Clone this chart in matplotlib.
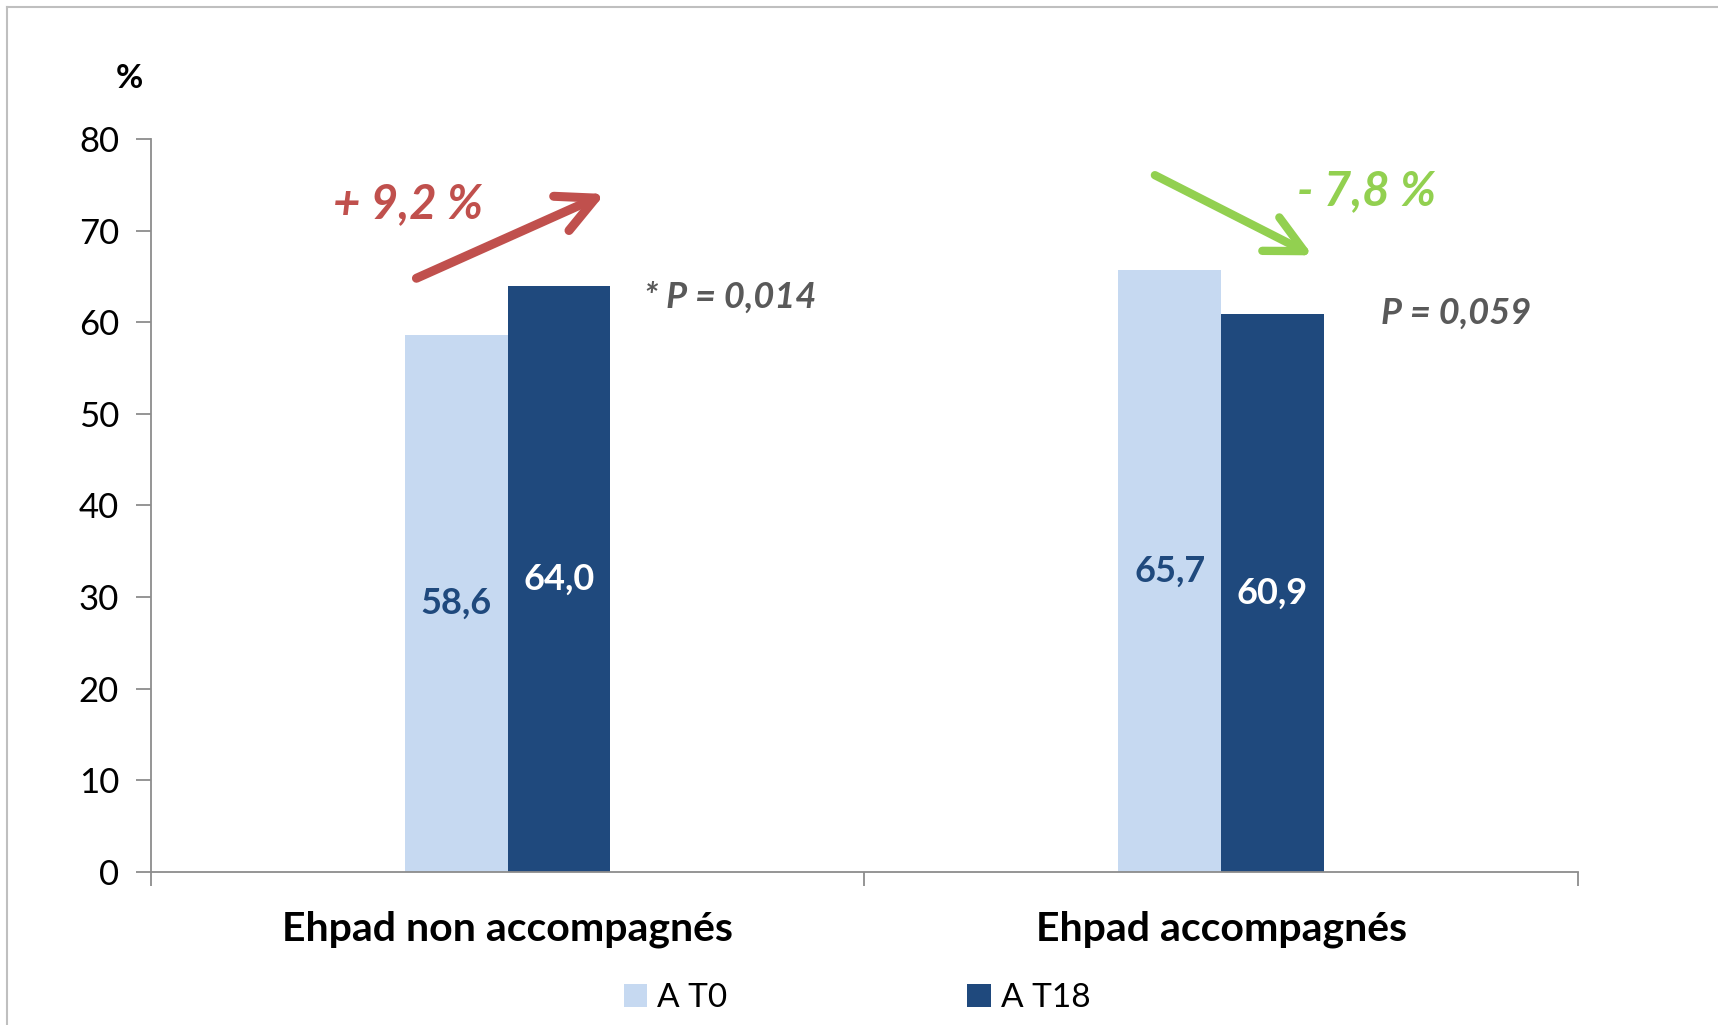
import matplotlib
matplotlib.use("Agg")
import matplotlib.pyplot as plt
import numpy as np
from matplotlib.lines import Line2D

plt.rcParams['font.family'] = ['Lato', 'DejaVu Sans']

categories = ["Ehpad non accompagnés", "Ehpad accompagnés"]
series_names = ["A T0", "A T18"]
t0_values = [58.6, 65.7]
t18_values = [64.0, 60.9]
t0_labels = ["58,6", "65,7"]
t18_labels = ["64,0", "60,9"]
change_labels = ["+ 9,2 %", "- 7,8 %"]
p_labels = ["* P = 0,014", "P = 0,059"]
yticks = [0, 10, 20, 30, 40, 50, 60, 70, 80]

c_light = "#C6D9F1"
c_dark = "#1F497D"
c_red = "#C0504D"
c_green = "#92D050"
c_gray = "#595959"
c_axis = "#8C8C8C"

fig = plt.figure(figsize=(17.18, 10.25), dpi=100)
ax = fig.add_axes([0.0879, 0.1493, 0.8306, 0.7151])

x = np.arange(len(categories))
w = 0.144
b0 = ax.bar(x - w / 2, t0_values, w, color=c_light, label=series_names[0])
b1 = ax.bar(x + w / 2, t18_values, w, color=c_dark, label=series_names[1])

for i in range(len(categories)):
    ax.text(x[i] - w / 2, t0_values[i] / 2, t0_labels[i], ha="center", va="center",
            fontsize=26, fontweight="bold", color=c_dark)
    ax.text(x[i] + w / 2, t18_values[i] / 2, t18_labels[i], ha="center", va="center",
            fontsize=26, fontweight="bold", color="white")

ax.set_xlim(-0.5, 1.5)
ax.set_ylim(0, 80)
ax.set_yticks(yticks)
ax.set_yticklabels([str(v) for v in yticks], fontsize=25)
ax.set_xticks(x)
ax.set_xticklabels(categories, fontsize=29.5, fontweight="bold")
ax.set_xticks([-0.5, 0.5, 1.5], minor=True)
ax.tick_params(axis="x", which="major", length=0, pad=28)
ax.tick_params(axis="x", which="minor", length=10, color=c_axis, width=1.3, direction="out")
ax.tick_params(axis="y", length=11, color=c_axis, width=1.3, pad=12)
for s in ["top", "right"]:
    ax.spines[s].set_visible(False)
for s in ["left", "bottom"]:
    ax.spines[s].set_color(c_axis)
    ax.spines[s].set_linewidth(1.3)

# percent unit label
fig.text(129 / 1718, 1 - 79 / 1025, "%", ha="center", va="center", fontsize=24, fontweight="bold")

# arrows
ax.annotate("", xy=(0.136, 74.0), xytext=(-0.128, 64.8),
            arrowprops=dict(arrowstyle="->,head_length=0.9,head_width=0.45", color=c_red, lw=6.5,
                            shrinkA=0, shrinkB=0, mutation_scale=30))
ax.annotate("", xy=(1.128, 67.3), xytext=(0.907, 76.05),
            arrowprops=dict(arrowstyle="->,head_length=0.9,head_width=0.45", color=c_green, lw=6,
                            shrinkA=0, shrinkB=0, mutation_scale=30))

ax.text(-0.14, 72.9, change_labels[0], ha="center", va="center", fontsize=34,
        fontweight="bold", style="italic", color=c_red)
ax.text(1.203, 74.3, change_labels[1], ha="center", va="center", fontsize=34,
        fontweight="bold", style="italic", color=c_green)
ax.text(0.191, 62.7, p_labels[0], ha="left", va="center", fontsize=26,
        fontweight="bold", style="italic", color=c_gray)
ax.text(1.224, 61.0, p_labels[1], ha="left", va="center", fontsize=26,
        fontweight="bold", style="italic", color=c_gray)

leg = fig.legend(handles=[b0, b1], labels=series_names, loc="center",
                 bbox_to_anchor=(857 / 1718, 1 - 998 / 1025), ncol=2, frameon=False,
                 fontsize=24, handlelength=0.7, handleheight=0.7, handletextpad=0.3,
                 columnspacing=7.2)

# outer frame (top and left only)
fig.add_artist(Line2D([7 / 1718, 7 / 1718], [0, 1 - 7 / 1025], transform=fig.transFigure,
                      color="#BFBFBF", lw=1.5))
fig.add_artist(Line2D([7 / 1718, 1], [1 - 7 / 1025, 1 - 7 / 1025], transform=fig.transFigure,
                      color="#BFBFBF", lw=1.5))

fig.savefig("out.png", dpi=100)
